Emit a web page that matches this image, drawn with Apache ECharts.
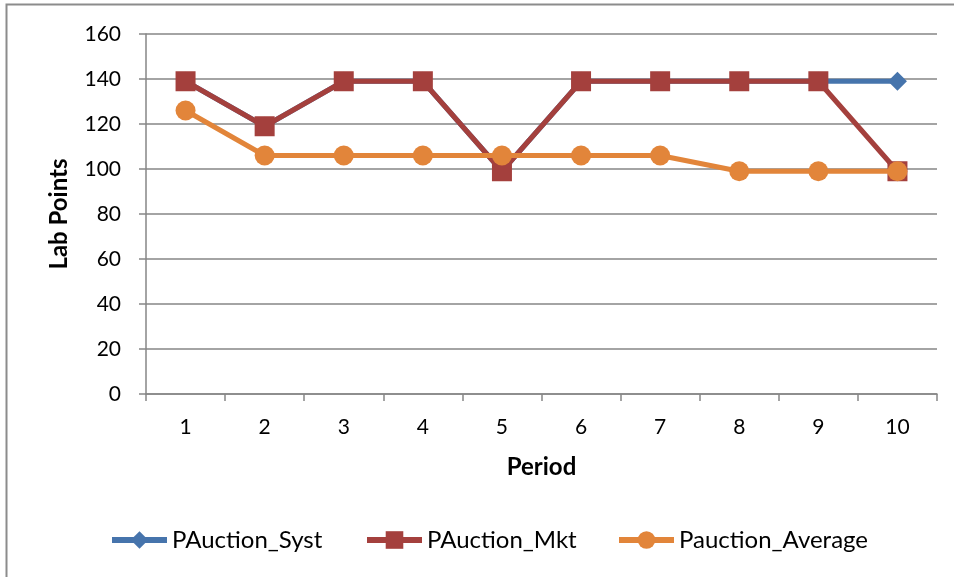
<!DOCTYPE html>
<html>
<head>
<meta charset="utf-8">
<script src="https://cdn.jsdelivr.net/npm/echarts@6/dist/echarts.min.js"></script>
<style>html,body{margin:0;padding:0;background:#fff}#c{width:954px;height:577px}</style>
</head>
<body>
<div id="c"></div>
<script>
const periods = ['1','2','3','4','5','6','7','8','9','10'];
const pauctionSyst = [139,119,139,139,99,139,139,139,139,139];
const pauctionMkt = [139,119,139,139,99,139,139,139,139,99];
const pauctionAverage = [126,106,106,106,106,106,106,99,99,99];
const yTicks = [0,20,40,60,80,100,120,140,160];
const seriesNames = ['PAuction_Syst','PAuction_Mkt','Pauction_Average'];

const FONT = 'Lato, "Open Sans", sans-serif';
const legendLefts = [109, 364, 616];
const legends = seriesNames.map((n,i)=>({
  left:legendLefts[i], top:528, itemWidth:55, itemHeight:22, padding:0,
  lineStyle:{width:6},
  textStyle:{fontFamily:FONT,fontSize:24,color:'#000'},
  data:[n]
}));
const chart = echarts.init(document.getElementById('c'), null, {renderer:'canvas'});
chart.setOption({
  animation:false,
  backgroundColor:'#fff',
  textStyle:{fontFamily:FONT},
  graphic:[{type:'rect',shape:{x:6.5,y:4.5,width:1000,height:1000},style:{fill:'none',stroke:'#8c8c8c',lineWidth:2},silent:true}],
  grid:{left:146,right:17,top:34,bottom:183,containLabel:false},
  legend:legends,
  xAxis:{
    type:'category', data:periods, boundaryGap:true,
    name:'Period', nameLocation:'middle', nameGap:61,
    nameTextStyle:{fontFamily:FONT,fontSize:24,fontWeight:'bold',color:'#000'},
    axisLine:{lineStyle:{color:'#868686',width:1.5}},
    axisTick:{show:true,alignWithLabel:false,length:7,lineStyle:{color:'#868686',width:1.5}},
    axisLabel:{fontFamily:FONT,fontSize:21,color:'#000',margin:23}
  },
  yAxis:{
    type:'value', min:0, max:160, interval:20,
    name:'Lab Points', nameLocation:'middle', nameGap:75, nameRotate:90,
    nameTextStyle:{fontFamily:FONT,fontSize:24,fontWeight:'bold',color:'#000'},
    axisLine:{show:true,lineStyle:{color:'#868686',width:1.5}},
    axisTick:{show:true,length:7,lineStyle:{color:'#868686',width:1.5}},
    axisLabel:{fontFamily:FONT,fontSize:21,color:'#000',margin:25,
      formatter:v=>yTicks.includes(v)?String(v):''},
    splitLine:{show:true,lineStyle:{color:'#868686',width:1.5}}
  },
  series:[
    {name:seriesNames[0],type:'line',data:pauctionSyst,symbol:'diamond',symbolSize:[19,19],
     color:'#4674AC',lineStyle:{width:5,color:'#4674AC'},itemStyle:{color:'#4674AC'},z:2},
    {name:seriesNames[1],type:'line',data:pauctionMkt,symbol:'rect',symbolSize:20,
     color:'#A4403D',lineStyle:{width:5,color:'#A4403D'},itemStyle:{color:'#A4403D'},z:3},
    {name:seriesNames[2],type:'line',data:pauctionAverage,symbol:'circle',symbolSize:20,
     color:'#E2853A',lineStyle:{width:5,color:'#E2853A'},itemStyle:{color:'#E2853A'},z:4}
  ]
});
</script>
</body>
</html>
